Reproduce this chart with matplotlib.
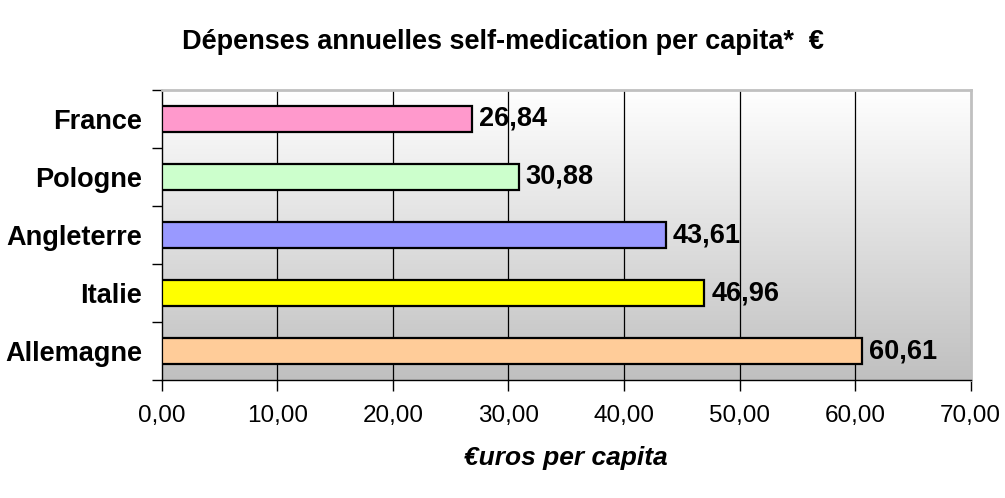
import numpy as np
import matplotlib
matplotlib.use("Agg")
import matplotlib.pyplot as plt
from matplotlib import font_manager as fm
from matplotlib.colors import LinearSegmentedColormap

categories = ["France", "Pologne", "Angleterre", "Italie", "Allemagne"]
values = [26.84, 30.88, 43.61, 46.96, 60.61]
colors = ["#FF99CC", "#CCFFCC", "#9999FF", "#FFFF00", "#FFCC99"]
xticks = [0, 10, 20, 30, 40, 50, 60, 70]
title = "Dépenses annuelles self-medication per capita*  €"
xlabel = "€uros per capita"

names = {f.name for f in fm.fontManager.ttflist}
narrow = "Liberation Sans Narrow" if "Liberation Sans Narrow" in names else "Liberation Sans"
plt.rcParams["font.family"] = [narrow, "DejaVu Sans"]

fig = plt.figure(figsize=(10.05, 4.98), dpi=100)
ax = fig.add_axes([0.1609, 0.2369, 0.8050, 0.5824])

n = len(categories)
ypos = np.arange(n)[::-1]

grad = np.linspace(0, 1, 256).reshape(-1, 1)
cmap = LinearSegmentedColormap.from_list("g", ["#c0c0c0", "#ffffff"])
ax.imshow(grad, aspect="auto", cmap=cmap, extent=[0, 1, 0, 1],
          origin="lower", transform=ax.transAxes, zorder=0)
ax.set_xlim(0, 70)
ax.set_ylim(-0.5, n - 0.5)

for x in xticks[1:-1]:
    ax.axvline(x, color="black", lw=0.9, zorder=1)

ax.barh(ypos, values, height=0.45, color=colors, edgecolor="black",
        linewidth=1.6, zorder=3)
for y, v in zip(ypos, values):
    ax.text(v + 0.6, y, f"{v:.2f}".replace(".", ","), va="center", ha="left",
            fontsize=19.5, fontweight="bold", zorder=4)

ax.set_yticks(ypos)
ax.set_yticklabels(categories, fontsize=19.5, fontweight="bold")
ax.set_yticks(np.arange(n + 1) - 0.5, minor=True)
ax.tick_params(axis="y", which="major", length=0, pad=14)
ax.tick_params(axis="y", which="minor", length=7, width=1)

ax.set_xticks(xticks)
ax.set_xticklabels([f"{t:.2f}".replace(".", ",") for t in xticks], fontsize=17.5)
ax.tick_params(axis="x", length=8, width=1, pad=10)

for s in ["top", "right"]:
    ax.spines[s].set_color("#c0c0c0")
    ax.spines[s].set_linewidth(2)
for s in ["left", "bottom"]:
    ax.spines[s].set_color("black")
    ax.spines[s].set_linewidth(1)

ax.set_xlabel(xlabel, fontsize=19, fontweight="bold", style="italic", labelpad=14)
fig.text(0.5, 0.915, title, ha="center", va="center", fontsize=19.5, fontweight="bold")

fig.savefig("out.png", dpi=100)
